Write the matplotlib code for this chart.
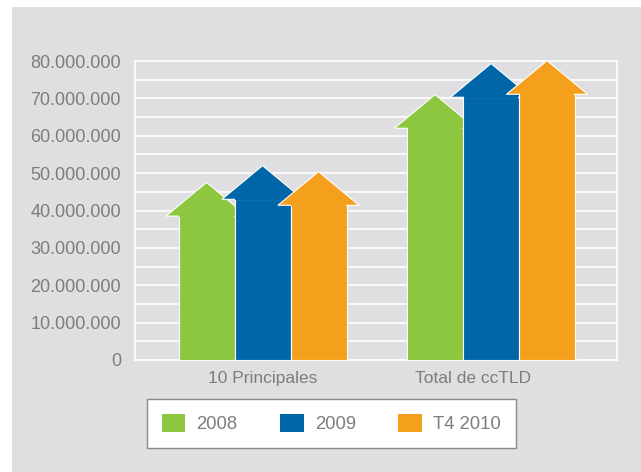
import matplotlib.pyplot as plt
import matplotlib.transforms as mtransforms
from matplotlib.patches import Polygon, Rectangle, Patch

categories = ['10 Principales', 'Total de ccTLD']
series = ['2008', '2009', 'T4 2010']
# height of the arrow shaft (bar), in domains
values = {
    '2008': [38500000, 62000000],
    '2009': [43000000, 70300000],
    'T4 2010': [41400000, 71100000],
}
colors = {'2008': '#8dc63f', '2009': '#0066a8', 'T4 2010': '#f5a01c'}
yticks = list(range(0, 80000001, 10000000))
ytick_labels = ['0', '10.000.000', '20.000.000', '30.000.000', '40.000.000',
                '50.000.000', '60.000.000', '70.000.000', '80.000.000']

BG = '#dfdfe1'
TXT = '#7d7d7d'
plt.rcParams['font.family'] = ['Liberation Sans', 'DejaVu Sans']

fig = plt.figure(figsize=(6.41, 4.72), dpi=100)
fig.patch.set_facecolor('white')
fig.patches.append(Rectangle((12 / 641, 0), 1, 1 - 7 / 472, transform=fig.transFigure,
                             facecolor=BG, edgecolor='none', zorder=-10))

ax = fig.add_axes([135 / 641, 1 - 360 / 472, 482 / 641, 299 / 472])
ax.set_facecolor(BG)

width = 0.245
head_h = 9000000
head_extra = 0.055
for i, s in enumerate(series):
    z = 3 + i
    for j, v in enumerate(values[s]):
        xc = j + (i - 1) * width
        ax.bar(xc, v, width, color=colors[s], edgecolor='white', linewidth=0.8, zorder=z)
        half = width / 2 + head_extra
        head = Polygon([(xc - half, v), (xc, v + head_h), (xc + half, v)], closed=True,
                       facecolor=colors[s], edgecolor='white', linewidth=0.8, zorder=z)
        ax.add_patch(head)
        # hide the seam between shaft and head
        ax.plot([xc - width / 2 + 0.004, xc + width / 2 - 0.004], [v, v],
                color=colors[s], lw=1.5, zorder=z + 0.5, solid_capstyle='butt')

ax.set_xlim(-0.558, 1.551)
ax.set_ylim(0, 80000000)
ax.set_yticks(yticks)
ax.set_yticklabels(ytick_labels)
ax.set_yticks(range(5000000, 80000000, 10000000), minor=True)
ax.grid(True, axis='y', which='both', color='white', lw=1.2, zorder=0)
ax.set_xticks([0, 1])
ax.set_xticklabels(categories)
ax.tick_params(axis='both', which='both', length=0, colors=TXT)
ax.tick_params(axis='y', labelsize=13, pad=10)
ax.tick_params(axis='x', labelsize=12.5, pad=8)
# second category label sits a little left of its group in the original
lbl = ax.get_xticklabels()[1]
lbl.set_transform(lbl.get_transform() + mtransforms.ScaledTranslation(-0.18, 0, fig.dpi_scale_trans))
for sp in ax.spines.values():
    sp.set_color('white')
    sp.set_linewidth(1.2)

handles = [Patch(facecolor=colors[s], edgecolor='none') for s in series]
leg = fig.legend(handles, series, loc='lower left', bbox_to_anchor=(147 / 641, 1 - 448 / 472),
                 borderaxespad=0, ncol=3, frameon=True, fancybox=False, fontsize=13.3,
                 handlelength=1.28, handleheight=1.2, handletextpad=0.6, columnspacing=2.3,
                 borderpad=0.8, labelcolor=TXT, framealpha=1)
leg.get_frame().set_edgecolor('#8a8a8a')
leg.get_frame().set_linewidth(1.0)
leg.get_frame().set_facecolor('white')

fig.savefig('out.png', dpi=100, facecolor=fig.get_facecolor())
